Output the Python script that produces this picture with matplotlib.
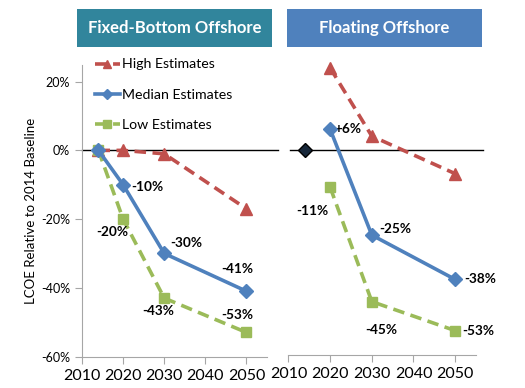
import matplotlib
matplotlib.use("Agg")
import matplotlib.pyplot as plt
from matplotlib.patches import Rectangle

plt.rcParams['font.family'] = ['Lato', 'DejaVu Sans']

# ---- data ----
panel_titles = ["Fixed-Bottom Offshore", "Floating Offshore"]
series_names = ["High Estimates", "Median Estimates", "Low Estimates"]

fixed_years = [2014, 2020, 2030, 2050]
fixed_high = [0, 0, -1, -17]
fixed_median = [0, -10, -30, -41]
fixed_low = [0, -20, -43, -53]

float_years = [2020, 2030, 2050]
float_high = [24, 4, -7]
float_median = [6, -25, -38]
float_low = [-11, -44.5, -53]

baseline_year = 2014
baseline_value = 0

fixed_median_labels = ["-10%", "-30%", "-41%"]
fixed_low_labels = ["-20%", "-43%", "-53%"]
float_median_labels = ["+6%", "-25%", "-38%"]
float_low_labels = ["-11%", "-45%", "-53%"]

xticks = [2010, 2020, 2030, 2040, 2050]
yticks = [20, 0, -20, -40, -60]
ytick_labels = ["20%", "0%", "-20%", "-40%", "-60%"]

# ---- style ----
RED = "#C0504D"
BLUE = "#4F81BD"
GREEN = "#9BBB59"
TEAL = "#31859C"
AX_GRAY = "#A6A6A6"

W, H = 525, 388
fig = plt.figure(figsize=(W / 100, H / 100), dpi=100)


def fx(px):
    return px / W


def fy(py):
    return 1 - py / H


axL = fig.add_axes([fx(82), fy(356.5), fx(267 - 82), (356.5 - 64.5) / H])
axR = fig.add_axes([fx(288.5), fy(354.5), fx(476 - 288.5), (354.5 - 64.5) / H])

for ax in (axL, axR):
    ax.set_xlim(2010, 2055)
    ax.set_ylim(-60, 25)
    for s in ("top", "right"):
        ax.spines[s].set_visible(False)
    ax.spines["bottom"].set_color(AX_GRAY)
    ax.spines["left"].set_color(AX_GRAY)
    ax.set_xticks(xticks)
    ax.set_xticklabels([str(x) for x in xticks], fontsize=11.5)
    ax.tick_params(axis="x", direction="out", length=5, color=AX_GRAY, pad=4)
    ax.tick_params(axis="y", direction="out", length=5, color=AX_GRAY, labelsize=9)
    ax.patch.set_alpha(0)

axL.set_yticks(yticks)
axL.set_yticklabels(ytick_labels)
axL.set_ylabel("LCOE Relative to 2014 Baseline", fontsize=9.5, labelpad=3)

axR.spines["left"].set_visible(False)
axR.set_yticks([])

# zero lines
axL.axhline(0, xmin=0, xmax=(278 - 82) / (267 - 82), color="black", lw=1, clip_on=False, zorder=1)
axR.axhline(0, xmin=(290 - 288.5) / (476 - 288.5), xmax=(483 - 288.5) / (476 - 288.5),
            color="black", lw=1, clip_on=False, zorder=1)

dash = (3.2, 1.8)
lw = 2.6


def plot_set(ax, years, high, med, low):
    h, = ax.plot(years, high, color=RED, lw=lw, ls=(0, dash), marker="^", ms=8,
                 clip_on=False, zorder=3)
    m, = ax.plot(years, med, color=BLUE, lw=lw, marker="D", ms=7, clip_on=False, zorder=4)
    l, = ax.plot(years, low, color=GREEN, lw=lw, ls=(0, dash), marker="s", ms=7.5,
                 clip_on=False, zorder=3)
    return h, m, l


hL, mL, lL = plot_set(axL, fixed_years, fixed_high, fixed_median, fixed_low)
plot_set(axR, float_years, float_high, float_median, float_low)

axR.plot([baseline_year], [baseline_value], marker="D", ms=7, color="#17273A",
         mec="black", ls="none", zorder=5, clip_on=False)


def lab(ax, x, y, text, dx, dy):
    ax.annotate(text, (x, y), xytext=(dx, -dy), textcoords="offset pixels",
                ha="center", va="center", fontsize=9.8, fontweight="bold", color="black")


# fixed labels (pixel offsets: dx right, dy down)
fm_off = [(24, 2), (22, -10), (-9, -22)]
fl_off = [(-11, 13), (-6, 13), (-9, -17)]
for (x, y, t, o) in zip(fixed_years[1:], fixed_median[1:], fixed_median_labels, fm_off):
    lab(axL, x, y, t, *o)
for (x, y, t, o) in zip(fixed_years[1:], fixed_low[1:], fixed_low_labels, fl_off):
    lab(axL, x, y, t, *o)

rm_off = [(18, 0), (23, -6), (25, 0)]
rl_off = [(-18, 24), (9, 28), (23, 0)]
for (x, y, t, o) in zip(float_years, float_median, float_median_labels, rm_off):
    lab(axR, x, y, t, *o)
for (x, y, t, o) in zip(float_years, float_low, float_low_labels, rl_off):
    lab(axR, x, y, t, *o)

# legend
leg = fig.legend([hL, mL, lL], series_names, loc="upper left",
                 bbox_to_anchor=(fx(95), fy(58.5)), frameon=False, fontsize=10.2,
                 handlelength=1.75, handletextpad=0.15, labelspacing=1.28,
                 borderpad=0, borderaxespad=0, markerscale=0.75)

# title boxes
for (x0, x1, col, title) in [(77, 272, TEAL, panel_titles[0]), (287, 482, BLUE, panel_titles[1])]:
    fig.patches.append(Rectangle((fx(x0), fy(47)), fx(x1 - x0), (47 - 9) / H,
                                 transform=fig.transFigure, facecolor=col, edgecolor="none"))
    fig.text(fx((x0 + x1) / 2), fy(28), title, ha="center", va="center",
             color="white", fontsize=12, fontweight="bold")

fig.savefig("out.png", dpi=100)
